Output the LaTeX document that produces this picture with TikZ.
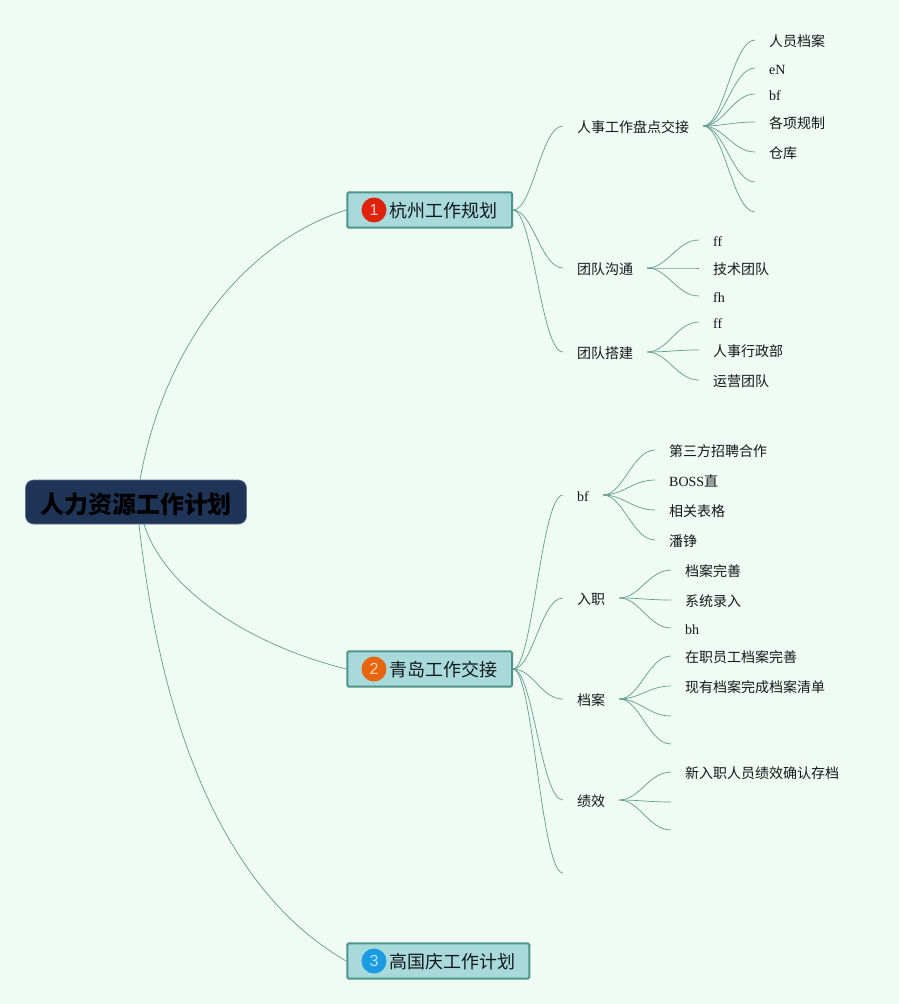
\documentclass[tikz,border=0pt]{standalone}
\usepackage{fontspec}
\setmainfont{Liberation Serif}
\newfontfamily\cjk{Noto Sans CJK SC}
\newfontfamily\digitfont{Liberation Sans}
\usetikzlibrary{calc}
\definecolor{paper}{HTML}{F0FBF3}
\definecolor{link}{HTML}{5F9F8C}
\definecolor{ink}{HTML}{14181C}
\definecolor{navy}{HTML}{1F3557}
\definecolor{teal}{HTML}{A8DADC}
\definecolor{tealdark}{HTML}{4F9488}
\definecolor{badgea}{HTML}{E0220C}
\definecolor{badgeb}{HTML}{E8650F}
\definecolor{badgec}{HTML}{1B9BE2}
\newcommand{\fine}{\fontsize{14}{17}\selectfont}
\newcommand{\midsize}{\fontsize{18}{22}\selectfont}
\newcommand{\bigsize}{\fontsize{24}{29}\selectfont}
\tikzset{
  topic/.style={draw=tealdark,fill=teal,line width=2pt,rounded corners=1.5pt,anchor=west,minimum height=35.4pt,inner sep=0},
  toptext/.style={anchor=west,inner sep=0,text=ink,font=\midsize\cjk},
  badge/.style={circle,minimum size=25pt,inner sep=0,font=\fontsize{16}{20}\selectfont\digitfont},
  leaf/.style={anchor=west,inner xsep=14pt,inner ysep=0,text height=13pt,text depth=1pt,text=ink,font=\fine},
  branch/.style={link,line width=0.7pt},
}
\begin{document}
\begin{tikzpicture}[x=1pt,y=-1pt]
\fill[paper] (0,0) rectangle (899,1004);
\useasboundingbox (0,0) rectangle (899,1004);
\node[fill=navy,draw=navy!70!white,line width=0.6pt,rounded corners=8pt,minimum width=221pt,minimum height=44pt,inner sep=0,text height=23pt,text depth=1pt,text=black,font=\bigsize\cjk\bfseries] (plan) at (136,502) {人力资源工作计划};
% three cities
\node[topic,minimum width=164.7pt] (hangzhou) at (346.3,210) {};
\node[badge,fill=badgea,text=red!20!white] (hangzhoubadge) at (374,210) {1};
\node[toptext] (hangzhoutext) at (389,210.5) {杭州工作规划};
\node[topic,minimum width=164.7pt] (qingdao) at (346.3,669) {};
\node[badge,fill=badgeb,text=orange!30!white] (qingdaobadge) at (374,669) {2};
\node[toptext] (qingdaotext) at (389,669.5) {青岛工作交接};
\node[topic,minimum width=182pt] (gaoguoqing) at (346.3,961) {};
\node[badge,fill=badgec,text=cyan!30!white] (gaoguoqingbadge) at (374,961) {3};
\node[toptext] (gaoguoqingtext) at (389,961.5) {高国庆工作计划};
\draw[branch] ([xshift=4pt]plan.north) .. controls (165,340) and (250,240) .. (hangzhou.west);
\draw[branch] ([xshift=8pt]plan.south) .. controls (165,590) and (250,645) .. (qingdao.west);
\draw[branch] ([xshift=3pt]plan.south) .. controls (165,760) and (240,900) .. (gaoguoqing.west);
% hangzhou
\node[leaf] (handover) at (563,126) {\cjk 人事工作盘点交接};
\node[leaf] (teamtalk) at (563,268) {\cjk 团队沟通};
\node[leaf] (teambuild) at (563,352) {\cjk 团队搭建};
\draw[branch] (hangzhou.east) .. controls +(20,0) and +(-22,0) .. (handover.west);
\draw[branch] (hangzhou.east) .. controls +(20,0) and +(-22,0) .. (teamtalk.west);
\draw[branch] (hangzhou.east) .. controls +(20,0) and +(-22,0) .. (teambuild.west);
\node[leaf] (staff) at (755,40) {\cjk 人员档案};
\node[leaf] (en) at (755,68) {eN};
\node[leaf] (bfa) at (755,94) {bf};
\node[leaf] (rules) at (755,122) {\cjk 各项规制};
\node[leaf] (store) at (755,152) {\cjk 仓库};
\coordinate (blanka) at (755,182);
\coordinate (blankb) at (755,212);
\draw[branch] (handover.east) .. controls +(20,0) and +(-22,0) .. (staff.west);
\draw[branch] (handover.east) .. controls +(20,0) and +(-22,0) .. (en.west);
\draw[branch] (handover.east) .. controls +(20,0) and +(-22,0) .. (bfa.west);
\draw[branch] (handover.east) .. controls +(20,0) and +(-22,0) .. (rules.west);
\draw[branch] (handover.east) .. controls +(20,0) and +(-22,0) .. (store.west);
\draw[branch] (handover.east) .. controls +(20,0) and +(-22,0) .. (blanka);
\draw[branch] (handover.east) .. controls +(20,0) and +(-22,0) .. (blankb);
\node[leaf] (ffa) at (699,240) {ff};
\node[leaf] (techteam) at (699,268) {\cjk 技术团队};
\node[leaf] (fh) at (699,296) {fh};
\draw[branch] (teamtalk.east) .. controls +(20,0) and +(-22,0) .. (ffa.west);
\draw[branch] (teamtalk.east) .. controls +(20,0) and +(-22,0) .. (techteam.west);
\draw[branch] (teamtalk.east) .. controls +(20,0) and +(-22,0) .. (fh.west);
\node[leaf] (ffb) at (699,322) {ff};
\node[leaf] (hrteam) at (699,350) {\cjk 人事行政部};
\node[leaf] (opsteam) at (699,380) {\cjk 运营团队};
\draw[branch] (teambuild.east) .. controls +(20,0) and +(-22,0) .. (ffb.west);
\draw[branch] (teambuild.east) .. controls +(20,0) and +(-22,0) .. (hrteam.west);
\draw[branch] (teambuild.east) .. controls +(20,0) and +(-22,0) .. (opsteam.west);
% qingdao
\node[leaf] (bfb) at (563,495) {bf};
\node[leaf] (entry) at (563,598) {\cjk 入职};
\node[leaf] (files) at (563,699) {\cjk 档案};
\node[leaf] (merit) at (563,800) {\cjk 绩效};
\coordinate (blankc) at (563,873);
\draw[branch] (qingdao.east) .. controls +(20,0) and +(-22,0) .. (bfb.west);
\draw[branch] (qingdao.east) .. controls +(20,0) and +(-22,0) .. (entry.west);
\draw[branch] (qingdao.east) .. controls +(20,0) and +(-22,0) .. (files.west);
\draw[branch] (qingdao.east) .. controls +(20,0) and +(-22,0) .. (merit.west);
\draw[branch] (qingdao.east) .. controls +(20,0) and +(-22,0) .. (blankc);
\node[leaf] (agency) at (655,450) {\cjk 第三方招聘合作};
\node[leaf] (boss) at (655,480) {BOSS{\cjk 直}};
\node[leaf] (forms) at (655,510) {\cjk 相关表格};
\node[leaf] (panzheng) at (655,540) {\cjk 潘铮};
\draw[branch] (bfb.east) .. controls +(20,0) and +(-22,0) .. (agency.west);
\draw[branch] (bfb.east) .. controls +(20,0) and +(-22,0) .. (boss.west);
\draw[branch] (bfb.east) .. controls +(20,0) and +(-22,0) .. (forms.west);
\draw[branch] (bfb.east) .. controls +(20,0) and +(-22,0) .. (panzheng.west);
\node[leaf] (filedone) at (671,570) {\cjk 档案完善};
\node[leaf] (sysinput) at (671,600) {\cjk 系统录入};
\node[leaf] (bh) at (671,628) {bh};
\draw[branch] (entry.east) .. controls +(20,0) and +(-22,0) .. (filedone.west);
\draw[branch] (entry.east) .. controls +(20,0) and +(-22,0) .. (sysinput.west);
\draw[branch] (entry.east) .. controls +(20,0) and +(-22,0) .. (bh.west);
\node[leaf] (onjob) at (671,656) {\cjk 在职员工档案完善};
\node[leaf] (filelist) at (671,686) {\cjk 现有档案完成档案清单};
\coordinate (blankd) at (671,716);
\coordinate (blanke) at (671,744);
\draw[branch] (files.east) .. controls +(20,0) and +(-22,0) .. (onjob.west);
\draw[branch] (files.east) .. controls +(20,0) and +(-22,0) .. (filelist.west);
\draw[branch] (files.east) .. controls +(20,0) and +(-22,0) .. (blankd);
\draw[branch] (files.east) .. controls +(20,0) and +(-22,0) .. (blanke);
\node[leaf] (newhire) at (671,772) {\cjk 新入职人员绩效确认存档};
\coordinate (blankf) at (671,802);
\coordinate (blankg) at (671,830);
\draw[branch] (merit.east) .. controls +(20,0) and +(-22,0) .. (newhire.west);
\draw[branch] (merit.east) .. controls +(20,0) and +(-22,0) .. (blankf);
\draw[branch] (merit.east) .. controls +(20,0) and +(-22,0) .. (blankg);
\end{tikzpicture}
\end{document}
